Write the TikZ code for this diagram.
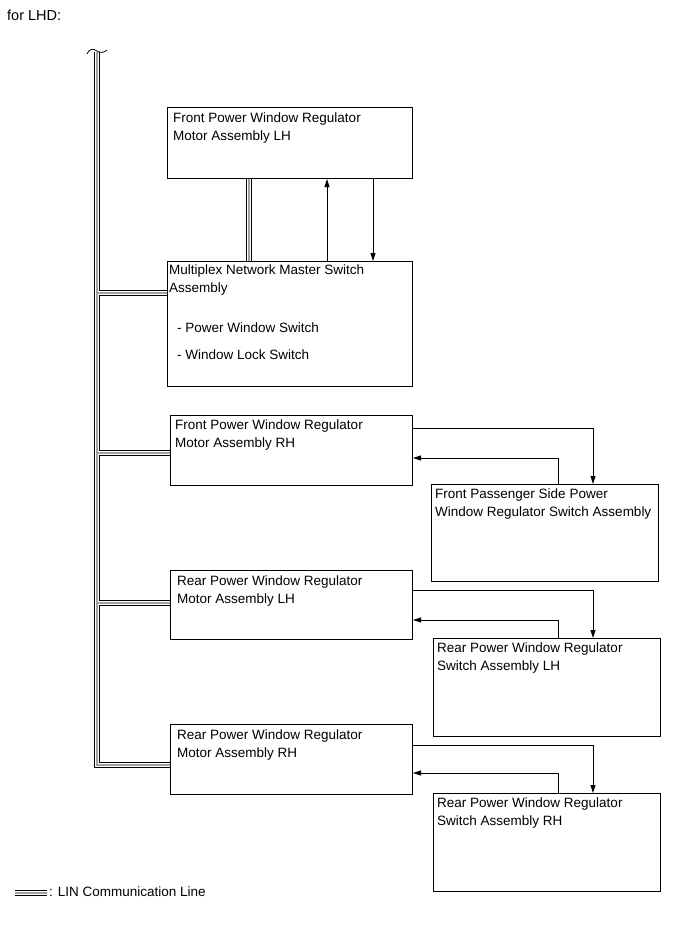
\documentclass[tikz,border=0pt]{standalone}
\usepackage{fontspec}
\setmainfont{Liberation Sans}
\usetikzlibrary{arrows.meta}
\begin{document}
\begin{tikzpicture}[x=1pt,y=-1pt,
  box/.style={draw,line width=1pt,inner sep=0pt,anchor=north west},
  txt/.style={anchor=north west,align=left,inner sep=0pt,font=\fontsize{13.5}{17.5}\selectfont},
  sig/.style={line width=0.9pt,-{Triangle[length=8pt,width=5pt]}},
  lin/.style={line width=6.5pt,black,postaction={draw=white,line width=3.9pt},postaction={draw=gray!75,line width=1.2pt}}]
\useasboundingbox (0,0) rectangle (691,952);

% boxes
\node[box,minimum width=245pt,minimum height=71pt] (A) at (167,107) {};
\node[box,minimum width=245pt,minimum height=125pt] (B) at (167,261) {};
\node[box,minimum width=242pt,minimum height=70pt] (C) at (170,415) {};
\node[box,minimum width=227pt,minimum height=97pt] (D) at (431,484) {};
\node[box,minimum width=242pt,minimum height=69pt] (E) at (170,570) {};
\node[box,minimum width=227pt,minimum height=98pt] (F) at (433,638) {};
\node[box,minimum width=242pt,minimum height=70pt] (G) at (170,724) {};
\node[box,minimum width=227pt,minimum height=98pt] (H) at (433,793) {};

% texts
\node[txt,font=\fontsize{14.5}{17.5}\selectfont] (title) at (7,10) {for LHD:};
\node[txt] (At) at (173,113) {Front Power Window Regulator\\Motor Assembly LH};
\node[txt] (Bt) at (169,265) {Multiplex Network Master Switch\\Assembly};
\node[txt,font=\fontsize{13.5}{27}\selectfont] (Bs) at (177,323) {- Power Window Switch\\- Window Lock Switch};
\node[txt] (Ct) at (175,420) {Front Power Window Regulator\\Motor Assembly RH};
\node[txt] (Dt) at (435,489) {Front Passenger Side Power\\Window Regulator Switch Assembly};
\node[txt] (Et) at (177,576) {Rear Power Window Regulator\\Motor Assembly LH};
\node[txt] (Ft) at (437,643) {Rear Power Window Regulator\\Switch Assembly LH};
\node[txt] (Gt) at (177,730) {Rear Power Window Regulator\\Motor Assembly RH};
\node[txt] (Ht) at (437,798) {Rear Power Window Regulator\\Switch Assembly RH};
\node[txt] (legt) at (49,887) {: LIN Communication Line};

% LIN bus
\coordinate (bustop) at (97,52);
\coordinate (jB) at (97,293);
\coordinate (jC) at (97,453);
\coordinate (jE) at (97,603);
\coordinate (jG) at (97,765);
\draw[lin] (bustop) -- (jG) -- (jG -| G.west)
  (jB) -- (jB -| B.west)
  (jC) -- (jC -| C.west)
  (jE) -- (jE -| E.west);
\draw[line width=0.8pt] (87,54) .. controls (89,49) and (93,48) .. (97,51) .. controls (100,53) and (104,53) .. (107,50);
\draw[lin] ([xshift=82pt]A.south west) -- ([xshift=82pt]B.north west);

% legend
\coordinate (legA) at (15,893);
\coordinate (legB) at (47,893);
\draw[lin] (legA) -- (legB);

% signal lines
\draw[sig] ([xshift=160pt]B.north west) -- ([xshift=160pt]A.south west);
\draw[sig] ([xshift=206pt]A.south west) -- ([xshift=206pt]B.north west);

\draw[sig] ([yshift=-13pt]C.north east) -| ([xshift=162pt]D.north west);
\draw[sig] ([xshift=127pt]D.north west) |- ([yshift=-43pt]C.north east);

\draw[sig] ([yshift=-20pt]E.north east) -| ([xshift=160pt]F.north west);
\draw[sig] ([xshift=125pt]F.north west) |- ([yshift=-50pt]E.north east);

\draw[sig] ([yshift=-21pt]G.north east) -| ([xshift=160pt]H.north west);
\draw[sig] ([xshift=125pt]H.north west) |- ([yshift=-49pt]G.north east);
\end{tikzpicture}
\end{document}
